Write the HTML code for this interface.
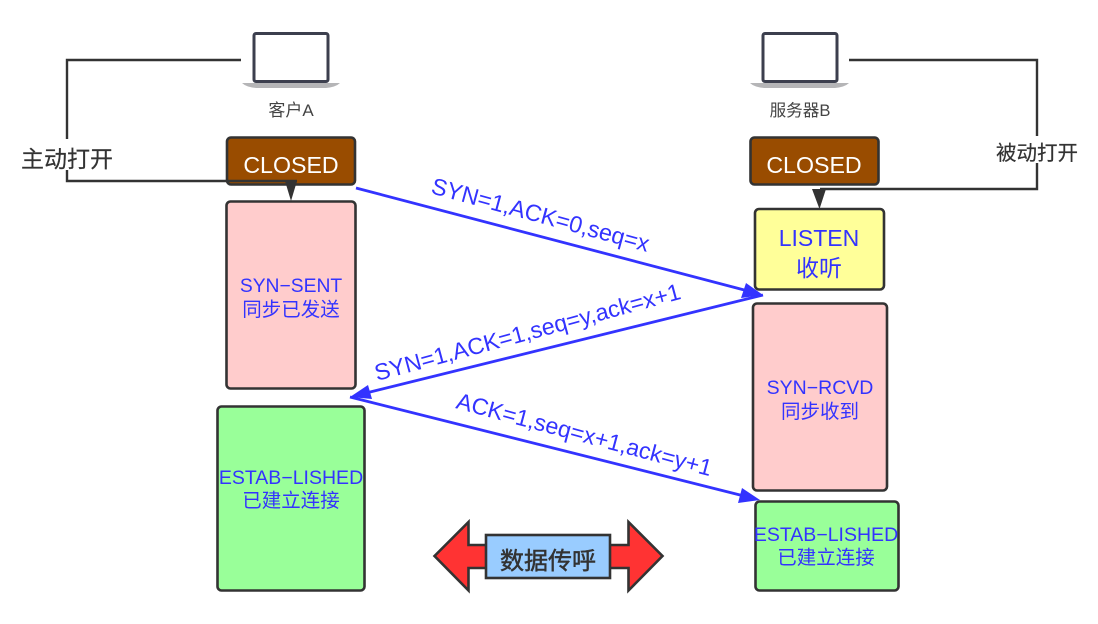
<!DOCTYPE html>
<html><head><meta charset="utf-8"><style>
html,body{margin:0;padding:0;background:#fff;width:1098px;height:624px;overflow:hidden}
svg{display:block;filter:blur(0.35px)}
text{font-family:"Liberation Sans","Noto Sans CJK SC",sans-serif}
.b{stroke:#333;stroke-width:2.6}
.m{text-anchor:middle}
.bl{fill:#3333ff}
</style></head><body>
<svg width="1098" height="624" viewBox="0 0 1098 624" xmlns="http://www.w3.org/2000/svg">
<!-- laptops -->
<g>
<path d="M242 83H340Q336 87 326 88H256Q246 87 242 83Z" fill="#b5b5b7"/>
<rect x="254" y="33.500" width="74" height="48" rx="2" fill="#fff" stroke="#3c3f4e" stroke-width="3"/>
</g>
<g>
<path d="M750 83H849Q845 87 835 88H764Q754 87 750 83Z" fill="#b5b5b7"/>
<rect x="763" y="33.500" width="74" height="48" rx="2" fill="#fff" stroke="#3c3f4e" stroke-width="3"/>
</g>
<text x="291" y="116" class="m" font-size="17" fill="#444">客户A</text>
<text x="800" y="116" class="m" font-size="16.600" fill="#444">服务器B</text>
<!-- boxes -->
<rect x="227" y="137.500" width="128" height="47" rx="4" fill="#994c00" class="b"/>
<rect x="750.500" y="137.500" width="128" height="47" rx="4" fill="#994c00" class="b"/>
<rect x="226.500" y="201.500" width="129" height="187" rx="4" fill="#ffcccc" class="b"/>
<rect x="217.500" y="406.500" width="147" height="184" rx="4" fill="#99ff99" class="b"/>
<rect x="755" y="209" width="129" height="80.500" rx="4" fill="#ffff99" class="b"/>
<rect x="753" y="303.500" width="134" height="187" rx="4" fill="#ffcccc" class="b"/>
<rect x="755.500" y="501.500" width="143" height="89" rx="4" fill="#99ff99" class="b"/>
<!-- connectors -->
<path d="M241 60H67V181H297" fill="none" stroke="#333" stroke-width="2.400"/>
<path d="M849 60H1037V189H820" fill="none" stroke="#333" stroke-width="2.400"/>
<path d="M285 181H297L291 201Z" fill="#333"/>
<path d="M812 189H826L819.500 209Z" fill="#333"/>
<!-- box labels -->
<text x="291" y="173" class="m" font-size="23.200" fill="#fff">CLOSED</text>
<text x="814" y="173" class="m" font-size="23.200" fill="#fff">CLOSED</text>
<text x="819" y="246" class="m bl" font-size="23">LISTEN</text>
<text x="819" y="276" class="m bl" font-size="23">收听</text>
<text x="291" y="292" class="m bl" font-size="19.300">SYN−SENT</text>
<text x="291" y="316" class="m bl" font-size="19.500">同步已发送</text>
<text x="291" y="484" class="m bl" font-size="19.500">ESTAB−LISHED</text>
<text x="291" y="507" class="m bl" font-size="19.500">已建立连接</text>
<text x="820" y="394" class="m bl" font-size="19.500">SYN−RCVD</text>
<text x="820" y="418" class="m bl" font-size="19.500">同步收到</text>
<text x="826" y="541" class="m bl" font-size="19.500">ESTAB−LISHED</text>
<text x="826" y="564" class="m bl" font-size="19.500">已建立连接</text>
<!-- blue arrows -->
<path d="M356 188L750 291.500" stroke="#3333ff" stroke-width="2.800" fill="none"/>
<path d="M763 295L741 298L746 283Z" fill="#3333ff"/>
<path d="M763 295L362 394" stroke="#3333ff" stroke-width="2.800" fill="none"/>
<path d="M350 397L368 385L372 399Z" fill="#3333ff"/>
<path d="M350 397L748 497" stroke="#3333ff" stroke-width="2.800" fill="none"/>
<path d="M760 500L738 503L742 488Z" fill="#3333ff"/>
<!-- rotated labels -->
<text transform="translate(430 193) rotate(15.200)" class="bl" font-size="23.300">SYN=1,ACK=0,seq=x</text>
<text transform="translate(377 381) rotate(-15.100)" class="bl" font-size="23.200">SYN=1,ACK=1,seq=y,ack=x+1</text>
<text transform="translate(455 408) rotate(15)" class="bl" font-size="23.200">ACK=1,seq=x+1,ack=y+1</text>
<!-- side labels -->
<rect x="20" y="139" width="95" height="31" fill="#fff"/>
<text x="21" y="167" font-size="23" fill="#333" stroke="#333" stroke-width="0.200">主动打开</text>
<rect x="995" y="136" width="84" height="27" fill="#fff"/>
<text x="996" y="160" font-size="20.500" fill="#333" stroke="#333" stroke-width="0.200">被动打开</text>
<!-- double arrow -->
<path d="M434.500 556L468.500 522V545H628.500V522L662.500 556L628.500 590.500V568H468.500V590.500Z" fill="#ff3333" class="b"/>
<rect x="486" y="535" width="124" height="43" fill="#99ccff" class="b"/>
<text x="548" y="569" class="m" font-size="24" fill="#333" stroke="#333" stroke-width="0.500">数据传呼</text>
</svg>
</body></html>
